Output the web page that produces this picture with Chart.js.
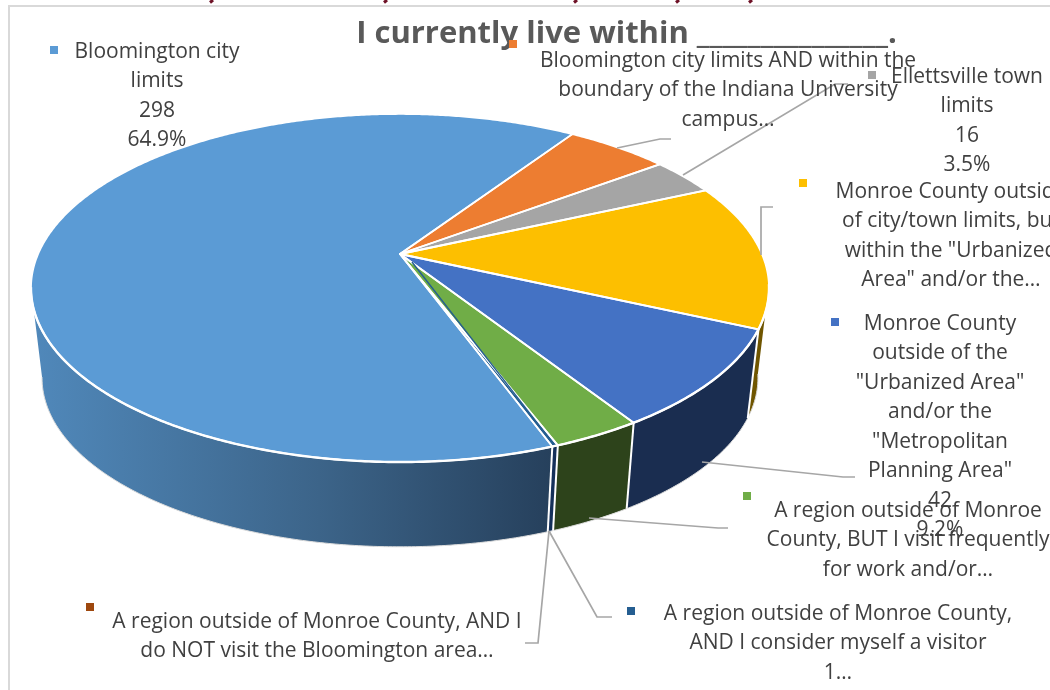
<!DOCTYPE html>
<html>
<head>
<meta charset="utf-8">
<style>html,body{margin:0;padding:0;background:#fff;overflow:hidden}canvas{display:block}</style>
<script src="https://cdn.jsdelivr.net/npm/chart.js@4/dist/chart.umd.min.js"></script>
</head>
<body>
<canvas id="c" width="1050" height="690"></canvas>
<script>
const categories = [
  "Bloomington city limits",
  "Bloomington city limits AND within the boundary of the Indiana University campus…",
  "Ellettsville town limits",
  "Monroe County outside of city/town limits, but within the \"Urbanized Area\" and/or the…",
  "Monroe County outside of the \"Urbanized Area\" and/or the \"Metropolitan Planning Area\"",
  "A region outside of Monroe County, BUT I visit frequently for work and/or…",
  "A region outside of Monroe County, AND I consider myself a visitor",
  "A region outside of Monroe County, AND I do NOT visit the Bloomington area…"
];
const values = [298, 25, 16, 62, 42, 15, 1, 0];
const topColors = ["#5b9bd5", "#ed7d31", "#a5a5a5", "#fdbf00", "#4472c4", "#70ad47", "#255e91", "#9e480e"];
const wallColors = [null, "#8a4a1c", "#5f5f5f", "#6f5500", "#1a2d50", "#2d431b", "#14305a", "#5a2a08"];
const titleText = "I currently live within _______________.";

// Label text blocks: lines, centre x, first line centre y, line step, marker x, marker y
const labelLines = [
  ["Bloomington city", "limits", "298", "64.9%"],
  ["Bloomington city limits AND within the", "boundary of the Indiana University", "campus…"],
  ["Ellettsville town", "limits", "16", "3.5%"],
  ["Monroe County outside", "of city/town limits, but", "within the \"Urbanized", "Area\" and/or the…"],
  ["Monroe County", "outside of the", "\"Urbanized Area\"", "and/or the", "\"Metropolitan", "Planning Area\"", "42", "9.2%"],
  ["A region outside of Monroe", "County, BUT I visit frequently", "for work and/or…"],
  ["A region outside of Monroe County,", "AND I consider myself a visitor", "1…"],
  ["A region outside of Monroe County, AND I", "do NOT visit the Bloomington area…"]
];
const labelCx = [157, 728, 967, 951, 940, 908, 838, 317];
const labelY0 = [52, 61, 77, 192, 324, 511, 614, 622];
const markerX = [54, 513, 872, 803, 835, 747, 631, 90];
const markerY = [50, 44, 75, 183, 322, 496, 611, 607];
const leaders = [
  null,
  [[617,148],[660,139],[671,139]],
  [[683,175],[835,84],[848,84]],
  [[761,255],[761,207],[773,207]],
  [[702,462],[843,477],[855,477]],
  [[589,518],[718,528],[728,528]],
  [[549,531],[597,617],[612,617]],
  [[549,531],[538,643],[525,643]]
];
const headerMarks = [211, 385, 575, 677, 750];

// Perspective of the pie disc
const CX = 400, CY = 254, RX = 361.9, RY = 167.4, K = 0.1954;
const BOTTOM_CY = 345, BOTTOM_SCALE = 0.97;
const WALL_FROM = 100, WALL_TO = 259;
const D2R = Math.PI / 180;

function project(deg, bottom) {
  const u = Math.sin(deg * D2R), v = Math.cos(deg * D2R), w = 1 + K * v;
  const s = bottom ? BOTTOM_SCALE : 1, cy = bottom ? BOTTOM_CY : CY;
  return [CX + s * RX * u / w, cy - s * RY * v / w];
}
function arcPoints(a, b, bottom) {
  const pts = [], n = Math.max(2, Math.ceil(Math.abs(b - a) * 2));
  for (let i = 0; i <= n; i++) pts.push(project(a + (b - a) * i / n, bottom));
  return pts;
}
function trace(ctx, pts, start) {
  pts.forEach((p, i) => (i === 0 && start) ? ctx.moveTo(p[0], p[1]) : ctx.lineTo(p[0], p[1]));
}
function sliceDegrees(el) {
  // library angles: 0 at 3 o'clock; here 0 at the top, clockwise
  return [el.startAngle / D2R + 90, el.endAngle / D2R + 90];
}
function wallRange(a, b) {
  for (const off of [0, 360, -360]) {
    const s = Math.max(a + off, WALL_FROM), e = Math.min(b + off, WALL_TO);
    if (e > s) return [s, e];
  }
  return null;
}

const pie3d = {
  id: "pie3d",
  beforeDraw(chart) {
    const ctx = chart.ctx;
    ctx.save();
    ctx.fillStyle = "#fff";
    ctx.fillRect(0, 0, 1050, 690);
    ctx.strokeStyle = "#d9d9d9";
    ctx.lineWidth = 2;
    ctx.beginPath();
    ctx.moveTo(9, 690); ctx.lineTo(9, 6); ctx.lineTo(1050, 6);
    ctx.stroke();
    ctx.strokeStyle = "#6e1126";
    ctx.lineWidth = 3;
    headerMarks.forEach(x => {
      ctx.beginPath(); ctx.moveTo(x + 2, 0); ctx.lineTo(x - 1, 2.5); ctx.stroke();
    });
    ctx.restore();
  },
  beforeDatasetDraw(chart, args) {
    const ctx = chart.ctx, arcs = args.meta.data;
    ctx.save();
    ctx.lineJoin = "round";
    // side wall, painted back to front
    const order = [3, 4, 5, 7, 6, 0];
    order.forEach(i => {
      const [a, b] = sliceDegrees(arcs[i]);
      const r = wallRange(a, b);
      if (!r) return;
      ctx.beginPath();
      trace(ctx, arcPoints(r[0], r[1], false), true);
      trace(ctx, arcPoints(r[1], r[0], true), false);
      ctx.closePath();
      if (i === 0) {
        const g = ctx.createLinearGradient(35, 0, 552, 0);
        g.addColorStop(0, "#5088ba");
        g.addColorStop(0.55, "#3c6489");
        g.addColorStop(1, "#26405c");
        ctx.fillStyle = g;
      } else ctx.fillStyle = wallColors[i];
      ctx.fill();
    });
    // bottom silhouette
    ctx.strokeStyle = "#dcdcdc";
    ctx.lineWidth = 1;
    ctx.beginPath();
    trace(ctx, arcPoints(WALL_FROM, WALL_TO, true), true);
    ctx.stroke();
    // white wall separators
    ctx.strokeStyle = "#fff";
    ctx.lineWidth = 2;
    [4, 5, 6, 0].forEach(i => {
      const a = sliceDegrees(arcs[i])[0];
      const t = project(a, false), b = project(a, true);
      ctx.beginPath(); ctx.moveTo(t[0], t[1]); ctx.lineTo(b[0], b[1]); ctx.stroke();
    });
    // top faces
    arcs.forEach((el, i) => {
      const [a, b] = sliceDegrees(el);
      if (b - a <= 0) return;
      ctx.beginPath();
      ctx.moveTo(CX, CY);
      trace(ctx, arcPoints(a, b, false), false);
      ctx.closePath();
      ctx.fillStyle = el.options.backgroundColor;
      ctx.fill();
    });
    ctx.strokeStyle = "#fff";
    ctx.lineWidth = 1.8;
    arcs.forEach(el => {
      const [a, b] = sliceDegrees(el);
      if (b - a <= 0) return;
      ctx.beginPath();
      ctx.moveTo(CX, CY);
      trace(ctx, arcPoints(a, b, false), false);
      ctx.closePath();
      ctx.stroke();
    });
    // sliver colour over its white outline
    const sliver = arcs[6];
    const mid = (sliceDegrees(sliver)[0] + sliceDegrees(sliver)[1]) / 2;
    const rim = project(mid, false);
    ctx.strokeStyle = sliver.options.backgroundColor;
    ctx.lineWidth = 1.4;
    ctx.beginPath(); ctx.moveTo(CX + 12, CY + 8); ctx.lineTo(rim[0], rim[1]); ctx.stroke();
    // front rim highlight
    ctx.strokeStyle = "#fff";
    ctx.lineWidth = 2.4;
    ctx.beginPath();
    trace(ctx, arcPoints(WALL_FROM, WALL_TO, false), true);
    ctx.stroke();
    ctx.restore();
    return false;
  },
  afterDatasetsDraw(chart) {
    const ctx = chart.ctx;
    ctx.save();
    ctx.strokeStyle = "#a6a6a6";
    ctx.lineWidth = 1.7;
    leaders.forEach(l => {
      if (!l) return;
      ctx.beginPath();
      trace(ctx, l, true);
      ctx.stroke();
    });
    ctx.textAlign = "center";
    ctx.textBaseline = "middle";
    ctx.fillStyle = "#595959";
    ctx.font = "bold 31px 'Open Sans'";
    ctx.fillText(titleText, 626.5, 34);
    labelLines.forEach((lines, i) => {
      ctx.fillStyle = topColors[i];
      ctx.fillRect(markerX[i] - 4, markerY[i] - 4, 8, 8);
      ctx.fillStyle = "#404040";
      ctx.font = "21px 'Open Sans'";
      lines.forEach((t, j) => ctx.fillText(t, labelCx[i], labelY0[i] + j * 29.45));
    });
    ctx.restore();
  }
};

new Chart(document.getElementById("c"), {
  type: "pie",
  data: { labels: categories, datasets: [{ data: values, backgroundColor: topColors, borderWidth: 0 }] },
  options: {
    responsive: false,
    animation: false,
    rotation: 159.9,
    plugins: { legend: { display: false }, tooltip: { enabled: false }, title: { display: false } }
  },
  plugins: [pie3d]
});
</script>
</body>
</html>
